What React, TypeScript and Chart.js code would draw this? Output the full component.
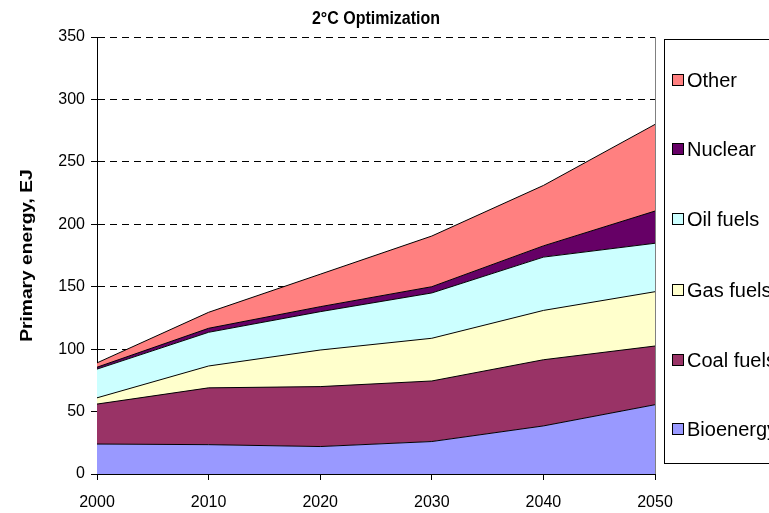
import React, { useEffect, useRef } from "react";
import { Chart, registerables } from "chart.js";

Chart.register(...registerables);

const years = ["2000", "2010", "2020", "2030", "2040", "2050"];
const bioenergy = [24, 23.5, 22, 26, 38.5, 55.5];
const coalFuels = [32, 45.5, 48, 48.5, 53, 47];
const gasFuels = [5, 17.5, 29.3, 34.2, 39.5, 43.5];
const oilFuels = [23, 27, 30.7, 36.3, 42.7, 38.8];
const nuclear = [1.5, 3.2, 4, 5, 9, 25.8];
const other = [3.5, 12.8, 26, 40.6, 48.4, 69.4];

const chartTitle = "2°C Optimization";
const yTitle = "Primary energy, EJ";

const seriesNames = ["Bioenergy", "Coal fuels", "Gas fuels", "Oil fuels", "Nuclear", "Other"];
const seriesData = [bioenergy, coalFuels, gasFuels, oilFuels, nuclear, other];
const seriesColors = ["#9999FF", "#993366", "#FFFFCC", "#CCFFFF", "#660066", "#FF8080"];

const decorPlugin = {
  id: "decor",
  afterDraw(chart: any) {
    const { ctx, chartArea } = chart;
    const { left, right, top, bottom } = chartArea;
    ctx.save();
    // right plot border
    ctx.strokeStyle = "#808080";
    ctx.lineWidth = 1;
    ctx.beginPath();
    ctx.moveTo(Math.round(right) + 0.5, top);
    ctx.lineTo(Math.round(right) + 0.5, bottom);
    ctx.stroke();

    // chart title
    ctx.fillStyle = "#000";
    ctx.font = "bold 16px Arial, 'Liberation Sans', sans-serif";
    ctx.textAlign = "center";
    ctx.textBaseline = "middle";
    ctx.save();
    ctx.translate((left + right) / 2, 19);
    ctx.scale(1, 1.2);
    ctx.fillText(chartTitle, 0, 0);
    ctx.restore();

    // y axis title
    ctx.save();
    ctx.translate(28, (top + bottom) / 2);
    ctx.rotate(-Math.PI / 2);
    ctx.scale(1.2, 1);
    ctx.font = "bold 16px Arial, 'Liberation Sans', sans-serif";
    ctx.fillText(yTitle, 0, 0);
    ctx.restore();

    // legend box
    const lx = 664.5;
    const ly = 39.5;
    const lh = 424;
    ctx.strokeStyle = "#000";
    ctx.lineWidth = 1;
    ctx.strokeRect(lx, ly, 200, lh);
    const rowY = [80, 149, 219, 290, 360, 429];
    ctx.font = "20px Arial, 'Liberation Sans', sans-serif";
    ctx.textAlign = "left";
    ctx.textBaseline = "middle";
    for (let i = 0; i < seriesNames.length; i++) {
      const idx = seriesNames.length - 1 - i;
      const y = rowY[i];
      ctx.fillStyle = seriesColors[idx];
      ctx.fillRect(672, y - 5, 11, 11);
      ctx.strokeStyle = "#000";
      ctx.strokeRect(672.5, y - 5.5, 11, 11);
      ctx.fillStyle = "#000";
      ctx.fillText(seriesNames[idx], 687, y + 1);
    }
    ctx.restore();
  },
};

export default function App() {
  const ref = useRef<HTMLCanvasElement | null>(null);
  useEffect(() => {
    if (!ref.current) return;
    const datasets = seriesNames.map((name, i) => ({
      label: name,
      data: seriesData[i],
      backgroundColor: seriesColors[i],
      borderColor: "#000",
      borderWidth: 1,
      pointRadius: 0,
      pointHoverRadius: 0,
      tension: 0,
      fill: i === 0 ? "origin" : "-1",
    }));
    const chart = new Chart(ref.current, {
      type: "line",
      data: { labels: years, datasets },
      plugins: [decorPlugin],
      options: {
        responsive: false,
        animation: false,
        layout: { padding: { top: 37, right: 114, left: 0, bottom: 0 } },
        plugins: {
          legend: { display: false },
          title: { display: false },
          tooltip: { enabled: false },
        },
        scales: {
          x: {
            offset: false,
            grid: {
              display: true,
              drawOnChartArea: false,
              drawTicks: true,
              tickLength: 6,
              color: "#000",
              tickColor: "#000",
            },
            border: { display: true, color: "#000", width: 1 },
            ticks: {
              color: "#000",
              font: { family: "Arial, 'Liberation Sans', sans-serif", size: 16 },
              padding: 13,
              maxRotation: 0,
              autoSkip: false,
            },
            afterFit: (s: any) => {
              s.height = 39;
            },
          },
          y: {
            stacked: true,
            min: 0,
            max: 350,
            grid: {
              color: "#000",
              lineWidth: 1,
              drawTicks: true,
              tickLength: 6,
              tickColor: "#000",
            },
            border: { display: true, color: "#000", width: 1, dash: [7, 5] },
            ticks: {
              stepSize: 50,
              color: "#000",
              font: { family: "Arial, 'Liberation Sans', sans-serif", size: 16 },
              padding: 6,
            },
            afterFit: (s: any) => {
              s.width = 97;
            },
          },
        },
      },
    });
    return () => chart.destroy();
  }, []);
  return (
    <div style={{ position: "absolute", left: 0, top: 0, width: 769, height: 513, background: "#fff" }}>
      <canvas ref={ref} width={769} height={513} style={{ display: "block" }} />
    </div>
  );
}
